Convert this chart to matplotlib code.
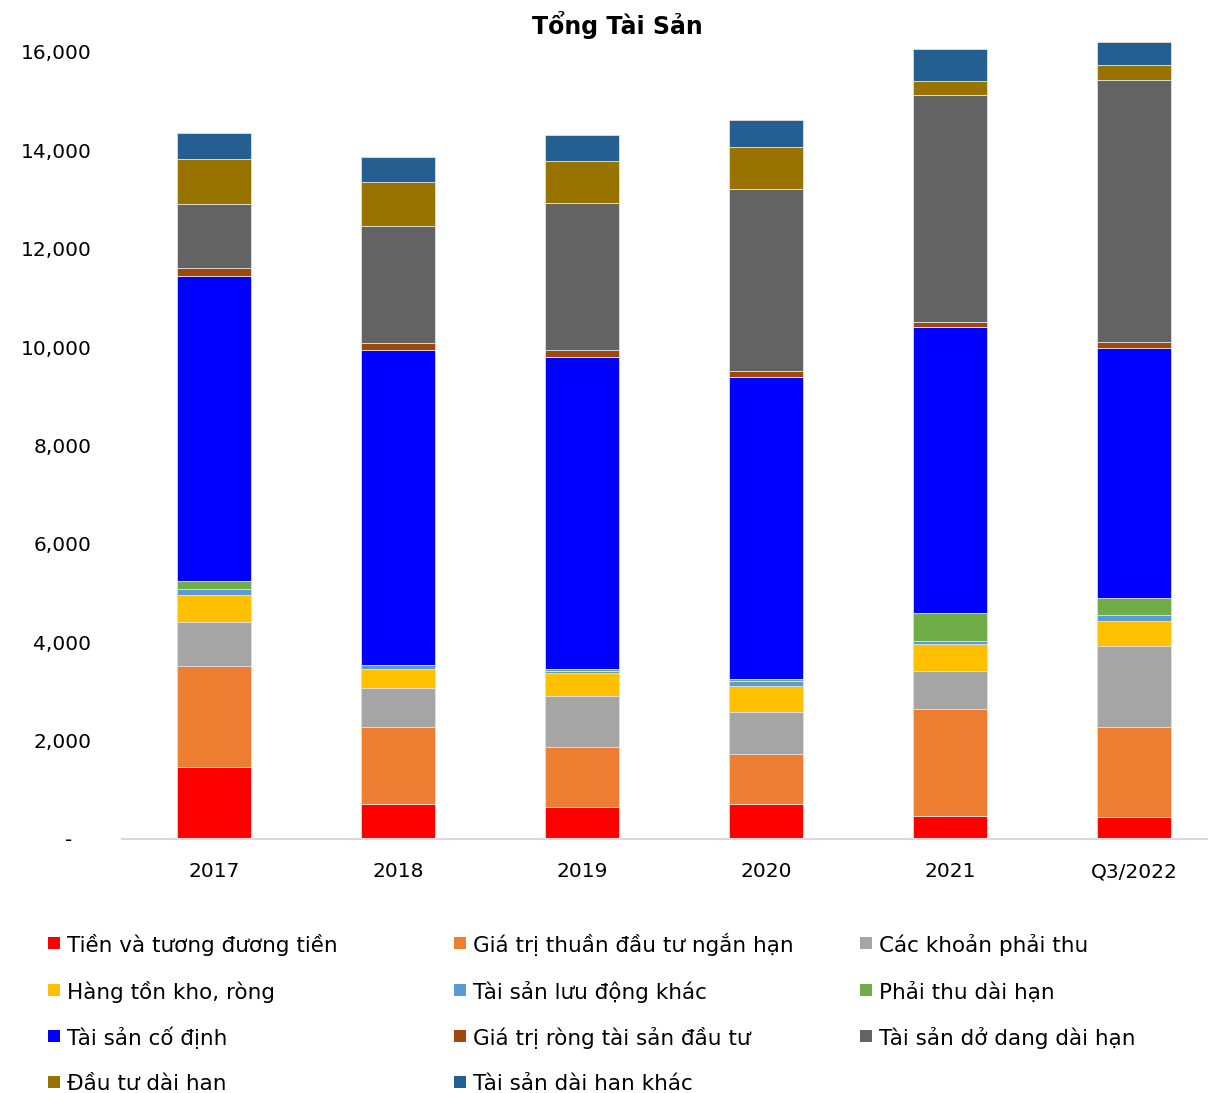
import matplotlib.pyplot as plt
from matplotlib.patches import Rectangle
from matplotlib.ticker import FuncFormatter

plt.rcParams['font.family'] = ['DejaVu Sans']

years = ["2017", "2018", "2019", "2020", "2021", "Q3/2022"]

# gia tri tung khoan muc (doc tu hinh)
tien = [1452, 712, 651, 706, 468, 441]
dau_tu_ngan_han = [2067, 1554, 1208, 1023, 2176, 1825]
phai_thu = [895, 805, 1044, 842, 761, 1647]
hang_ton_kho = [549, 381, 467, 541, 555, 515]
ts_luu_dong_khac = [110, 81, 41, 96, 55, 116]
phai_thu_dai_han = [169, 0, 41, 46, 570, 358]
ts_co_dinh = [6209, 6401, 6352, 6137, 5817, 5085]
bds_dau_tu = [151, 142, 130, 122, 114, 110]
ts_do_dang = [1302, 2386, 2990, 3708, 4617, 5335]
dau_tu_dai_han = [915, 901, 867, 842, 272, 305]
ts_dai_han_khac = [529, 497, 516, 549, 664, 468]

series = [
    ("Tiền và tương đương tiền", tien, "#FF0000"),
    ("Giá trị thuần đầu tư ngắn hạn", dau_tu_ngan_han, "#ED7D31"),
    ("Các khoản phải thu", phai_thu, "#A5A5A5"),
    ("Hàng tồn kho, ròng", hang_ton_kho, "#FFC000"),
    ("Tài sản lưu động khác", ts_luu_dong_khac, "#5B9BD5"),
    ("Phải thu dài hạn", phai_thu_dai_han, "#70AD47"),
    ("Tài sản cố định", ts_co_dinh, "#0000FF"),
    ("Giá trị ròng tài sản đầu tư", bds_dau_tu, "#9E480E"),
    ("Tài sản dở dang dài hạn", ts_do_dang, "#636363"),
    ("Đầu tư dài han", dau_tu_dai_han, "#997300"),
    ("Tài sản dài han khác", ts_dai_han_khac, "#255E91"),
]

W, H = 1208, 1093
fig = plt.figure(figsize=(W/100, H/100), dpi=100)
ax = fig.add_axes([122/W, (H-838.7)/H, 1086/W, 799/H])

x = range(len(years))
bottom = [0]*len(years)
for name, vals, col in series:
    ax.bar(x, vals, width=0.4, bottom=bottom, color=col,
           edgecolor="#e0e0e0", linewidth=0.6)
    bottom = [b+v for b, v in zip(bottom, vals)]

ax.set_xlim(-0.5, 5.402)
ax.set_ylim(0, 16250)
ax.set_yticks(range(0, 16001, 2000))
ax.yaxis.set_major_formatter(FuncFormatter(
    lambda v, p: "-   " if v == 0 else "{:,.0f}".format(v)))
ax.set_xticks(list(x))
ax.set_xticklabels(years)
ax.tick_params(axis="y", length=0, pad=22, labelsize=14.5)
ax.tick_params(axis="x", length=0, pad=17, labelsize=14.5)

for s in ["top", "right", "left"]:
    ax.spines[s].set_visible(False)
ax.spines["bottom"].set_color("#d9d9d9")
ax.spines["bottom"].set_linewidth(1.5)

fig.text(617/W, 1-25/H, "Tổng Tài Sản", ha="center", va="center",
         fontsize=17, fontweight="bold")

# chu thich: 3 cot, xep theo hang
col_x = [48, 454, 860]
row_y = [943, 990, 1036, 1082]
for i, (name, vals, col) in enumerate(series):
    r, c = divmod(i, 3)
    px, py = col_x[c], row_y[r]
    fig.add_artist(Rectangle((px/W, 1-(py+6)/H), 12/W, 12/H,
                             facecolor=col, edgecolor="none",
                             transform=fig.transFigure))
    fig.text((px+19)/W, 1-py/H, name, ha="left", va="center_baseline",
             fontsize=15.5)

fig.savefig("out.png", dpi=100)
